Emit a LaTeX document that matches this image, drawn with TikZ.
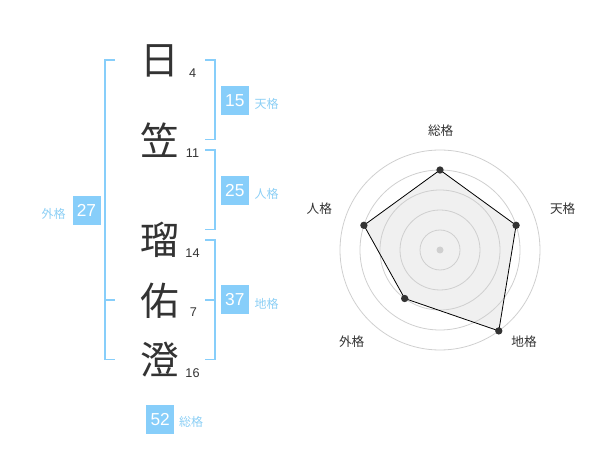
\documentclass[tikz,border=0pt]{standalone}
\usepackage{fontspec}
\setmainfont{Liberation Sans}
\newfontfamily\cjk{Noto Sans CJK JP}

\definecolor{kakuBlue}{HTML}{87CEFA}
\definecolor{kakuText}{HTML}{8CCFF5}
\definecolor{inkGray}{HTML}{333333}
\definecolor{ringGray}{HTML}{CFCFCF}
\definecolor{areaGray}{HTML}{F0F0F0}

\tikzset{every picture/.style={line width=0.75pt}}
\tikzset{
  kanji/.style={inner sep=0pt, text=inkGray, font=\cjk\fontsize{29}{29}\selectfont},
  strokes/.style={inner sep=0pt, text=inkGray, font=\fontsize{9.5}{9.5}\selectfont},
  bracket/.style={draw=kakuBlue, line width=1.3pt},
  kakubox/.style={fill=kakuBlue, text=white, inner sep=0pt, minimum width=21pt, minimum height=21.75pt, font=\fontsize{13}{13}\selectfont},
  kakulabel/.style={inner sep=0pt, text=kakuText, font=\cjk\fontsize{9}{9}\selectfont},
  ring/.style={draw=ringGray, line width=0.6pt},
  axislabel/.style={inner sep=0pt, text=inkGray, font=\cjk\fontsize{9.5}{9.5}\selectfont},
  dot/.style={circle, fill=inkGray, inner sep=0pt, minimum size=5.5pt}
}

\begin{document}
\begin{tikzpicture}[x=0.75pt,y=0.75pt,yscale=-1,xscale=1]
    \path (0,0) rectangle (600,470); %set diagram size 600 x 470
    
    % Text Node
    \draw (160,60.5) node (hi) [kanji] {日};
    % Text Node
    \draw (160,140) node (kasa) [kanji] {笠};
    % Text Node
    \draw (160,239.5) node (ru) [kanji] {瑠};
    % Text Node
    \draw (160,300.5) node (yu) [kanji] {佑};
    % Text Node
    \draw (160,359.7) node (sumi) [kanji] {澄};
    
    % Text Node
    \draw (192.7,72.7) node (hiN) [strokes] {4};
    % Text Node
    \draw (192.5,153.3) node (kasaN) [strokes] {11};
    % Text Node
    \draw (192.5,253) node (ruN) [strokes] {14};
    % Text Node
    \draw (193.3,312) node (yuN) [strokes] {7};
    % Text Node
    \draw (192.5,372.7) node (sumiN) [strokes] {16};
    
    %Shape: Bracket [id:tenkaku] 
    \draw [bracket] (205,60) -- (215,60) -- (215,139.5) -- (205,139.5) ;
    %Shape: Bracket [id:jinkaku] 
    \draw [bracket] (205,150) -- (215,150) -- (215,229.5) -- (205,229.5) ;
    %Shape: Bracket [id:chikaku] 
    \draw [bracket] (205,240) -- (215,240) -- (215,359.5) -- (205,359.5) ;
    \draw [bracket] (205,300) -- (215,300) ;
    %Shape: Bracket [id:gaikaku] 
    \draw [bracket] (115,60) -- (105,60) -- (105,359.5) -- (115,359.5) ;
    \draw [bracket] (105,300) -- (115,300) ;
    
    % Text Node
    \draw (234.8,100.5) node (ten) [kakubox] {15};
    \draw (254,104) node (tenL) [kakulabel, anchor=west] {天格};
    % Text Node
    \draw (234.8,190.8) node (jin) [kakubox] {25};
    \draw (254,193.5) node (jinL) [kakulabel, anchor=west] {人格};
    % Text Node
    \draw (234.8,300) node (chi) [kakubox] {37};
    \draw (254,304) node (chiL) [kakulabel, anchor=west] {地格};
    % Text Node
    \draw (86.5,210.2) node (gai) [kakubox] {27};
    \draw (66,213.5) node (gaiL) [kakulabel, anchor=east] {外格};
    % Text Node
    \draw (160.2,419.7) node (sou) [kakubox] {52};
    \draw (178.5,422) node (souL) [kakulabel, anchor=west] {総格};
    
    %Shape: Radar [id:points] 
    \coordinate (center) at (440,250);
    \coordinate (pSou) at (440,170);
    \coordinate (pTen) at (516.1,225.3);
    \coordinate (pChi) at (498.8,330.9);
    \coordinate (pGai) at (404.7,298.5);
    \coordinate (pJin) at (363.9,225.3);
    
    \fill [areaGray] (pSou) -- (pTen) -- (pChi) -- (pGai) -- (pJin) -- cycle ;
    %Shape: Circles [id:rings] 
    \foreach \r in {20,40,60,80,100}
      \draw [ring] (center) circle [radius=\r] ;
    \fill [ringGray] (center) circle [radius=3.5] ;
    
    %Straight Lines [id:outline] 
    \draw [black, line width=0.6pt] (pSou) -- (pTen) -- (pChi) -- (pGai) -- (pJin) -- cycle ;
    \foreach \p in {pSou,pTen,pChi,pGai,pJin}
      \node [dot] at (\p) {};
    
    % Text Node
    \draw (440.7,130.7) node (aSou) [axislabel] {総格};
    % Text Node
    \draw (562.7,209) node (aTen) [axislabel] {天格};
    % Text Node
    \draw (524,341.7) node (aChi) [axislabel] {地格};
    % Text Node
    \draw (351.7,341.7) node (aGai) [axislabel] {外格};
    % Text Node
    \draw (319.3,209) node (aJin) [axislabel] {人格};
    
\end{tikzpicture}
\end{document}
